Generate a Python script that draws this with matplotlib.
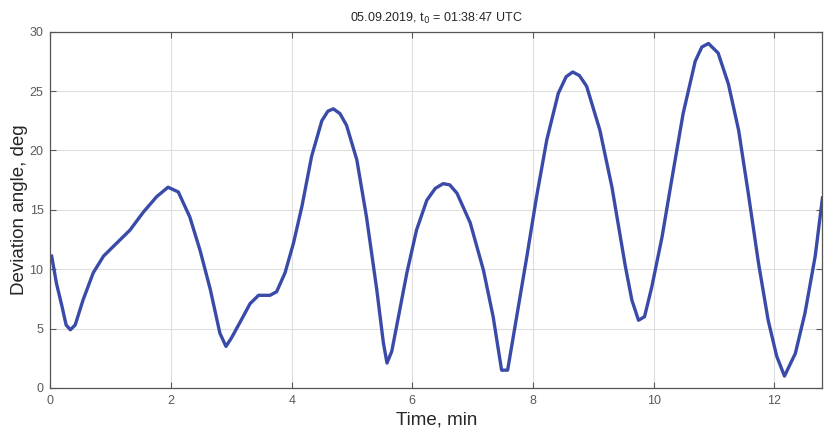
import matplotlib
matplotlib.use("Agg")
import matplotlib.pyplot as plt

plt.rcParams['font.family'] = ['Liberation Sans', 'DejaVu Sans']

time_min = [0.02, 0.10, 0.19, 0.26, 0.33, 0.41, 0.54, 0.71, 0.88, 1.10, 1.32, 1.54, 1.76, 1.95,
            2.12, 2.31, 2.48, 2.65, 2.81, 2.91, 3.0, 3.14, 3.31, 3.45, 3.64, 3.75, 3.89, 4.03,
            4.17, 4.33, 4.50, 4.60, 4.69, 4.80, 4.91, 5.08, 5.24, 5.41, 5.52, 5.58, 5.66, 5.77,
            5.91, 6.07, 6.24, 6.38, 6.51, 6.62, 6.74, 6.96, 7.18, 7.34, 7.48, 7.58, 7.73, 7.90,
            8.06, 8.23, 8.42, 8.55, 8.66, 8.77, 8.89, 9.11, 9.31, 9.53, 9.64, 9.75, 9.85, 9.97,
            10.14, 10.30, 10.49, 10.69, 10.80, 10.91, 11.07, 11.24, 11.41, 11.57, 11.74, 11.90,
            12.04, 12.17, 12.35, 12.51, 12.68, 12.80]
deviation_deg = [11.1, 8.8, 6.9, 5.3, 4.9, 5.3, 7.4, 9.7, 11.1, 12.2, 13.3, 14.8, 16.1, 16.9,
                 16.5, 14.4, 11.6, 8.3, 4.6, 3.5, 4.2, 5.5, 7.1, 7.8, 7.8, 8.1, 9.7, 12.2,
                 15.3, 19.5, 22.5, 23.3, 23.5, 23.1, 22.1, 19.2, 14.4, 8.3, 3.8, 2.1, 3.1, 6.0,
                 9.7, 13.3, 15.8, 16.8, 17.2, 17.1, 16.4, 13.9, 9.9, 6.0, 1.5, 1.5, 6.0, 11.1,
                 16.1, 20.9, 24.8, 26.2, 26.6, 26.3, 25.4, 21.7, 16.9, 10.3, 7.4, 5.7, 6.0, 8.5,
                 12.7, 17.5, 23.1, 27.5, 28.7, 29.0, 28.2, 25.6, 21.7, 16.4, 10.5, 5.7,
                 2.7, 1.0, 2.9, 6.3, 11.1, 16.0]

x_ticks = [0, 2, 4, 6, 8, 10, 12]
y_ticks = [0, 5, 10, 15, 20, 25, 30]

fig = plt.figure(figsize=(8.27, 4.33), dpi=100)
ax = fig.add_axes([0.061, 0.104, 0.9335, 0.823])

ax.plot(time_min, deviation_deg, color="#3a4aa8", linewidth=2.4, solid_joinstyle="round")

ax.set_xlim(0, 12.8)
ax.set_ylim(0, 30)
ax.set_xticks(x_ticks)
ax.set_yticks(y_ticks)
ax.grid(True, color="#dedede", linewidth=0.8)
ax.set_axisbelow(True)
ax.tick_params(direction="in", top=True, right=True, labelsize=9, colors="#5a5a5a",
               length=4, width=0.8, pad=5)
for s in ax.spines.values():
    s.set_color("#555555")
    s.set_linewidth(0.9)

ax.set_xlabel("Time, min", fontsize=13.5, color="#262626", labelpad=3)
ax.set_ylabel("Deviation angle, deg", fontsize=13.5, color="#262626", labelpad=1)
ax.set_title("05.09.2019, t$_0$ = 01:38:47 UTC", fontsize=9, color="#262626", pad=7)

fig.savefig("out.png", dpi=100)
